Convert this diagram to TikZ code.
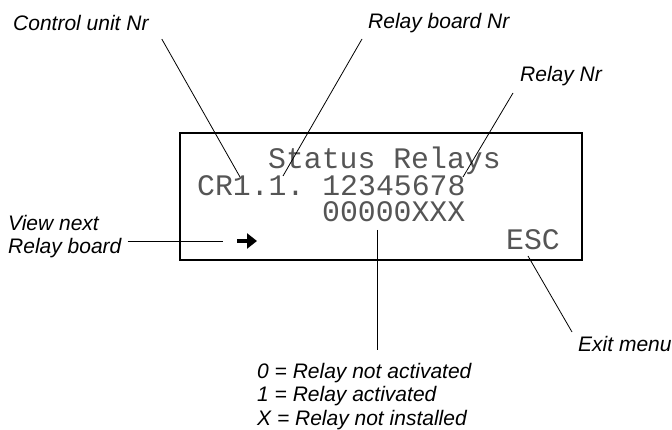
\documentclass[tikz,border=0pt]{standalone}
\usepackage{fontspec}
\setmainfont{Liberation Sans}
\newfontfamily\lcdfont{Liberation Mono}
\definecolor{lcdgray}{HTML}{555555}
\usetikzlibrary{arrows.meta}

\begin{document}
\begin{tikzpicture}[x=1pt,y=-1pt,
  note/.style={font=\fontsize{21}{23}\selectfont\itshape,inner sep=0pt,anchor=base west,align=left},
  lcd/.style={font=\fontsize{29.8}{30}\selectfont\lcdfont,text=lcdgray,inner sep=0pt,anchor=base west,text height=21pt,text depth=4pt},
  pin/.style={line width=0.8pt}]
\useasboundingbox (0,0) rectangle (672,430);
\node[draw,line width=1.8pt,minimum width=402pt,minimum height=127pt,inner sep=0pt] (display) at (381,196.5) {};
\node[lcd] (title) at (268,169) {Status Relays};
\node[lcd] (unit) at (197,196) {CR1.1.~12345678};
\node[lcd] (states) at (322,222) {00000XXX};
\node[lcd] (esc) at (506,250) {ESC};
\coordinate (nextkey) at (237,241);
\draw[line width=4.5pt,-{Triangle[length=10pt,width=15pt]}] (nextkey) -- ++(20,0);
\node[note] (ctrl) at (13,31) {Control unit Nr};
\node[note] (board) at (368,29) {Relay board Nr};
\node[note] (relay) at (520,82) {Relay Nr};
\node[note] (next) at (8,254) {View next\\Relay board};
\node[note,font=\fontsize{21}{23.5}\selectfont\itshape] (legend) at (257,425) {0 = Relay not activated\\1 = Relay activated\\X = Relay not installed};
\node[note] (exit) at (578,352) {Exit menu};
\coordinate (ctrlpin) at (240,177);
\coordinate (boardpin) at (283,176);
\coordinate (relaypin) at (463,177);
\coordinate (nextpin) at (223,241);
\coordinate (statepin) at (377,230);
\coordinate (legendpin) at (377,350);
\coordinate (escpin) at (528,256);
\draw[pin] ([shift={(13,8)}]ctrl.base east) -- (ctrlpin);
\draw[pin] ([shift={(-6,10)}]board.base west) -- (boardpin);
\draw[pin] ([shift={(-7,11)}]relay.base west) -- (relaypin);
\draw[pin] (nextpin -| next.east) ++(6,0) -- (nextpin);
\draw[pin] (statepin) -- (legendpin);
\draw[pin] (escpin) -- ([shift={(-6,-20)}]exit.base west);
\end{tikzpicture}
\end{document}
